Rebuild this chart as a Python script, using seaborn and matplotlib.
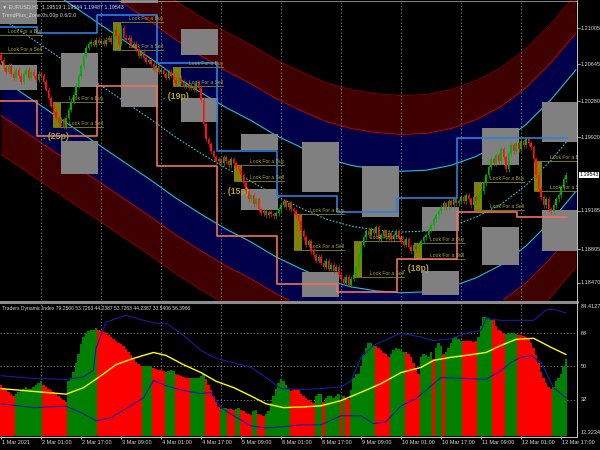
import numpy as np
import matplotlib
matplotlib.use("Agg")
import matplotlib.pyplot as plt
import matplotlib.transforms as mtransforms
from matplotlib.patches import Rectangle
import seaborn as sns

# ---------------- main chart data (EURUSD H1, bar 0 = 1 Mar 2021) ----------------
OPEN0 = 1.20740
CLOSE = [
    1.20691, 1.20611, 1.20572, 1.20631, 1.20552, 1.20512, 1.20592, 1.20532, 1.20473, 1.20552,
    1.20592, 1.20512, 1.20572, 1.20532, 1.20492, 1.20552,
    1.20532, 1.20473, 1.20393, 1.20314, 1.20234,
    1.20175, 1.20115, 1.20056, 1.20096, 1.20026, 1.20115,
    1.20195, 1.20274, 1.20344, 1.20433, 1.20532, 1.20631, 1.20730,
    1.20810, 1.20850, 1.20869, 1.20840,
    1.20889, 1.20859, 1.20879, 1.20850, 1.20889, 1.20909, 1.20869,
    1.20988, 1.20929, 1.20850, 1.21008, 1.20909,
    1.20889, 1.20909, 1.20830, 1.20850, 1.20790, 1.20730, 1.20770, 1.20711, 1.20671, 1.20691,
    1.20651, 1.20592, 1.20631, 1.20572,
    1.20592, 1.20552, 1.20512, 1.20572, 1.20532, 1.20492, 1.20453, 1.20512, 1.20473, 1.20433,
    1.20453, 1.20413, 1.20433, 1.20393, 1.20453, 1.20413,
    1.20294, 1.20046, 1.19897, 1.19848, 1.19778, 1.19719, 1.19679,
    1.19699, 1.19659, 1.19719, 1.19679, 1.19639, 1.19699, 1.19659, 1.19619, 1.19600,
    1.19540, 1.19461, 1.19381, 1.19302, 1.19342, 1.19252, 1.19302, 1.19203,
    1.19163, 1.19183, 1.19143, 1.19173, 1.19153, 1.19133, 1.19163, 1.19203,
    1.19242, 1.19282, 1.19223, 1.19262, 1.19203, 1.19183, 1.19143, 1.19084,
    1.18985, 1.18925, 1.18846, 1.18885, 1.18786, 1.18746, 1.18687, 1.18727,
    1.18667, 1.18627, 1.18687, 1.18608, 1.18647, 1.18588, 1.18627, 1.18548,
    1.18508, 1.18469, 1.18528, 1.18449, 1.18508, 1.18548, 1.18627,
    1.18746, 1.18846, 1.18925, 1.18985, 1.18945,
    1.19004, 1.18965, 1.19024, 1.18905, 1.18945, 1.18985, 1.18925, 1.18965, 1.18905, 1.18945,
    1.18985, 1.18925,
    1.18885, 1.18846, 1.18905, 1.18826, 1.18786, 1.18846, 1.18806,
    1.18846, 1.18885, 1.18925, 1.18945, 1.19004, 1.19044, 1.19104, 1.19143, 1.19183, 1.19223,
    1.19262, 1.19223, 1.19282, 1.19242, 1.19302, 1.19262, 1.19282,
    1.19322, 1.19282, 1.19342, 1.19302, 1.19242, 1.19322, 1.19282, 1.19342,
    1.19381, 1.19461, 1.19540, 1.19619, 1.19699,
    1.19659, 1.19738, 1.19679, 1.19798, 1.19719, 1.19600, 1.19758, 1.19838, 1.19778, 1.19858,
    1.19798,
    1.19877, 1.19838, 1.19897, 1.19858, 1.19818, 1.19699,
    1.19540, 1.19401, 1.19322, 1.19242, 1.19302, 1.19203,
    1.19183, 1.19242, 1.19302, 1.19342, 1.19421, 1.19500, 1.19543,
]
WICK = 0.00025

# regression channel: mid line read every 10 bars, band offsets
CHAN_X = list(range(0, 231, 10))
CHAN_MID = [1.21107, 1.20939, 1.20770, 1.20602, 1.20433, 1.20264, 1.20096, 1.19917,
            1.19758, 1.19610, 1.19481, 1.19332, 1.19213, 1.19104, 1.19034, 1.18994,
            1.18975, 1.18985, 1.19034, 1.19123, 1.19252, 1.19441, 1.19689, 1.19986]
CHAN_INNER = 0.00605
CHAN_RED = 0.00972
CHAN_OUTER = 0.01359

# daily resistance / support steps
RES_EDGES = [-0.4, 14.4, 38.4, 62.4, 86.4, 110.4, 134.4, 158.4, 182.4, 226.4]
RES_LEVELS = [1.21018, 1.20958, 1.21137, 1.20661, 1.19778, 1.19332, 1.19173, 1.19312, 1.19907]
SUP_EDGES = [-0.4, 14.4, 38.4, 62.4, 86.4, 110.4, 134.4, 158.4, 182.4, 206.4, 226.4]
SUP_LEVELS = [1.20284, 1.19927, 1.20433, 1.19629, 1.18935, 1.18459, 1.18380, 1.18707,
              1.19173, 1.19124]

# grey zone boxes, one pair per day
BOX_X = [-0.4, 24, 48, 72, 96, 120.4, 144.4, 168.4, 192.4, 216.4]
BOX_W = 14.8
UP_HI = [1.2135, 1.20760, 1.2135, 1.20998, 1.19947, 1.19867, 1.19629, 1.19223, 1.20016, 1.20274]
UP_LO = [1.21048, 1.20423, 1.21256, 1.20740, 1.19788, 1.19372, 1.19124, 1.18985, 1.19639, 1.19867]
DN_HI = [1.20641, 1.19877, 1.20611, 1.20314, 1.19401, 1.18578, None, 1.18588, 1.19024, 1.19193]
DN_LO = [1.20393, 1.19550, 1.20225, 1.20066, 1.19193, 1.18330, None, 1.18350, 1.18648, 1.18787]

# "Look For" signals
SIG_X0 = [-3.6, 20.8, 44.8, 68.8, 93.2, 117.2, 141.2, 165.2, 189.2, 213.2]
SIG_BUY = [1.20939, 1.20274, 1.21068, 1.20621, 1.19639, 1.19153, 1.18886, 1.18866, 1.19471, 1.19679]
SIG_SELL = [1.20760, 1.20026, 1.20790, 1.20433, 1.19481, 1.18796, 1.18529, 1.18707, 1.19193, 1.19382]

PIP_TXT = ['. (25p)', '. (19p)', '. (15p)', '. (18p)']
PIP_X = [16.8, 64.8, 88.8, 160.8]
PIP_Y = [1.19927, 1.20324, 1.19381, 1.18608]

PRICE_TICKS = ['1.21005', '1.20645', '1.20280', '1.19920', '1.19185', '1.18805', '1.18470']
LAST_PRICE = '1.19543'

TIME_TICKS = list(range(0, 225, 16))
TIME_LABELS = ['1 Mar 2021', '2 Mar 01:00', '2 Mar 17:00', '3 Mar 09:00', '4 Mar 01:00',
               '4 Mar 17:00', '5 Mar 09:00', '8 Mar 01:00', '8 Mar 17:00', '9 Mar 09:00',
               '10 Mar 01:00', '10 Mar 17:00', '11 Mar 09:00', '12 Mar 01:00', '12 Mar 17:00']
GRID_X = list(range(16, 231, 24))

# ---------------- Traders Dynamic Index ----------------
TDI = [40, 38, 37, 36, 35, 34,
       35, 36, 37, 38, 39, 38, 38, 39, 40, 41, 42,
       40, 39, 38, 37, 36, 35, 34, 33, 32, 31,
       42, 44, 47, 52, 57, 62, 66, 68, 69, 70, 70, 71,
       70, 69, 68.5, 68, 67, 66, 65, 64, 63, 62, 61, 59.5, 58, 56, 54, 52.5, 51.5, 50.5,
       50.5, 50.5, 50, 50.5,
       49, 48.5, 48, 48, 47.5,
       47, 47.5, 48, 47.5,
       46, 45.5, 45, 44.5, 44, 44,
       43.5, 44, 43.5, 44, 45, 46,
       43, 40, 37, 34, 31, 28,
       27, 27.5, 27.5,
       27, 27, 26.5,
       27, 27.5,
       26.5, 26, 25, 24, 23.5,
       26, 26.5,
       24, 23.5, 23,
       24, 26, 30, 34, 38, 41, 43, 42, 40, 38,
       36.5, 37, 37.5, 37, 35, 34, 33, 32, 31, 30,
       34, 35, 35,
       31,
       33, 34, 34, 33, 34, 35,
       32,
       34,
       33, 32.5,
       37, 44, 46, 46, 50, 56, 60, 63, 63, 61,
       61, 60, 59, 57.5, 56.5, 55,
       57, 59, 60, 59.5, 59, 58,
       58, 57, 55, 52, 49, 46,
       55, 57, 56, 55, 58,
       54,
       60, 62.5, 61,
       57,
       58, 60, 63, 65.5, 66, 65, 64,
       64, 64, 64, 64, 63.5, 64,
       66, 72, 77, 77, 76.5, 75,
       75, 72, 70, 69, 68,
       67.5, 68, 68, 68, 67.5,
       67, 67, 66.5, 66, 65.5, 63, 60, 56, 52, 47, 44, 41, 39, 38,
       39, 42, 44, 46, 50, 54]
TDI_RUNS = [(6, 'r'), (11, 'g'), (10, 'r'), (12, 'g'), (18, 'r'), (4, 'g'), (5, 'r'), (4, 'g'),
            (6, 'r'), (6, 'g'), (6, 'r'), (3, 'g'), (3, 'r'), (2, 'g'), (5, 'r'), (2, 'g'),
            (3, 'r'), (10, 'g'), (10, 'r'), (3, 'g'), (1, 'r'), (6, 'g'), (1, 'r'), (1, 'g'),
            (2, 'r'), (10, 'g'), (6, 'r'), (6, 'g'), (6, 'r'), (5, 'g'), (1, 'r'), (3, 'g'),
            (1, 'r'), (7, 'g'), (6, 'r'), (6, 'g'), (5, 'r'), (5, 'g'), (14, 'r'), (6, 'g')]

YEL_X = [0, 13, 26, 33, 40, 46, 53, 61, 66, 73, 80, 86, 93, 100, 106, 113, 120, 128, 136, 144,
         152, 160, 168, 173, 180, 186, 194, 200, 206, 213, 220, 226]
YEL_V = [38, 36.5, 35, 38.5, 45, 51, 54.4, 57.6, 56, 51, 46.7, 42, 38.6, 34, 29.8, 27.7, 28,
         28.7, 31.5, 36, 40.7, 46.7, 49.5, 53.3, 55, 56, 57.6, 61.4, 64.7, 65.3, 60.4, 56.5]
UPB_X = [0, 13, 26, 33, 37, 38, 40, 42, 50, 57, 62, 66, 72, 80, 86, 93, 100, 106, 112, 120,
         128, 136, 140, 144, 149, 156, 160, 168, 173, 180, 186, 192, 194, 200, 208, 213, 218,
         221, 226]
UPB_V = [45, 43.5, 43, 44.4, 48, 60, 67, 74, 77.8, 75, 73.4, 73.4, 68, 58.7, 54.4, 52, 49.5,
         44, 38, 37.5, 38, 39, 42, 55, 61.4, 65.8, 68, 66, 64, 65, 68, 69.6, 76, 75, 75, 75,
         80.6, 81, 79]
LOB_X = [0, 13, 26, 33, 38, 44, 50, 57, 61, 66, 73, 80, 84, 88, 93, 100, 106, 114, 120, 128,
         136, 144, 149, 154, 160, 166, 176, 186, 194, 200, 204, 208, 212, 216, 221, 226]
LOB_V = [29.8, 27.7, 28.5, 24.4, 20.6, 22.2, 27.1, 33, 42.4, 39.6, 37, 35.3, 36, 27.7, 23.3,
         17.8, 16.7, 17.5, 18.4, 18.4, 23.3, 23.3, 19, 20, 28.7, 32.5, 44, 43.5, 43, 47.8,
         52.2, 55, 56, 52.2, 38.6, 33]
TDI_LEVELS = [68, 50, 32]
TDI_TICKS = ['84.4127', '68', '50', '32', '12.3234']
TDI_TICK_V = [82.6, 68, 50, 32, 14.3]
TDI_MIN, TDI_MAX = 12.3234, 84.4127

# ---------------- style ----------------
sns.set_theme(style="dark", rc={"axes.facecolor": "black", "figure.facecolor": "black"})
plt.rcParams['font.family'] = ['Liberation Sans', 'DejaVu Sans']
TXT = '#d8d8d8'
GRIDC = '#8a8a8a'
OLIVE_T = '#a8a236'
OLIVE_L = '#77770e'
FS = 4.0

fig = plt.figure(figsize=(6, 4.5), dpi=100)
ax = fig.add_axes([0, 1 - 300 / 450, 577 / 600, 300 / 450])
ax2 = fig.add_axes([0, 1 - 436 / 450, 577 / 600, 133 / 450])
for a in (ax, ax2):
    a.set_facecolor('black')
    a.set_xlim(-0.4, 230.4)
    a.set_xticks([])
    a.set_yticks([])
    for s in a.spines.values():
        s.set_visible(False)
ax.set_ylim(1.18298, 1.21286)
ax2.set_ylim(TDI_MIN, TDI_MAX)

# channel
cx = np.array(CHAN_X, dtype=float)
cm = np.array(CHAN_MID)
ax.fill_between(cx, cm + CHAN_RED, cm + CHAN_OUTER, color='#3e0000', lw=0, zorder=1)
ax.fill_between(cx, cm + CHAN_INNER, cm + CHAN_RED, color='#00004a', lw=0, zorder=1)
ax.fill_between(cx, cm - CHAN_RED, cm - CHAN_INNER, color='#00004a', lw=0, zorder=1)
ax.fill_between(cx, cm - CHAN_OUTER, cm - CHAN_RED, color='#3e0000', lw=0, zorder=1)
for sign in (1, -1):
    ax.plot(cx, cm + sign * CHAN_OUTER, color='#7a0000', lw=0.7, zorder=2)
    ax.plot(cx, cm + sign * CHAN_RED, color='#c00000', lw=0.7, zorder=2)
    ax.plot(cx, cm + sign * CHAN_INNER, color='#1ec0cc', lw=0.8, zorder=2)
sns.lineplot(x=cx, y=cm, ax=ax, color='#30c8d8', lw=0.8, linestyle=(0, (1.5, 1.5)), zorder=2)

# grid
for gx in GRID_X:
    ax.axvline(gx, color=GRIDC, lw=0.6, ls=(0, (1.5, 2.5)), zorder=3)
    ax2.axvline(gx, color=GRIDC, lw=0.6, ls=(0, (1.5, 2.5)), zorder=0.5)

# grey zones
for i, x0 in enumerate(BOX_X):
    ax.add_patch(Rectangle((x0, UP_LO[i]), BOX_W, UP_HI[i] - UP_LO[i],
                           color='#808080', lw=0, zorder=3.5))
    if DN_HI[i] is not None:
        ax.add_patch(Rectangle((x0, DN_LO[i]), BOX_W, DN_HI[i] - DN_LO[i],
                               color='#808080', lw=0, zorder=3.5))

# signals
for x0, b, s in zip(SIG_X0, SIG_BUY, SIG_SELL):
    ax.add_patch(Rectangle((x0, s), 3.3, b - s, color='#80800a', lw=0, zorder=3.6))
    ax.plot([x0, x0 + 20], [b, b], color=OLIVE_L, lw=0.7, zorder=4)
    ax.plot([x0, x0 + 20], [s, s], color=OLIVE_L, lw=0.7, zorder=4)
    ax.text(x0 + 20, b + 0.0001, 'Look For a Buy', color=OLIVE_T, fontsize=3.6,
            ha='right', va='bottom', zorder=6, clip_on=True)
    ax.text(x0 + 20, s + 0.0001, 'Look For a Sell', color=OLIVE_T, fontsize=3.6,
            ha='right', va='bottom', zorder=6, clip_on=True)
for t, x, y in zip(PIP_TXT, PIP_X, PIP_Y):
    ax.text(x, y, t, color=OLIVE_T, fontsize=6.3, fontweight='bold', ha='left',
            va='center', zorder=6)
ax.text(1.6, 1.20631, '(20p)', color=OLIVE_T, fontsize=6.3, fontweight='bold',
        ha='right', va='center', zorder=6, clip_on=True)

# candles
close = np.array(CLOSE)
opn = np.concatenate([[OPEN0], close[:-1]])
bx = np.arange(len(close))
lo = np.minimum(opn, close)
hi = np.maximum(opn, close)
ccol = np.where(close >= opn, '#00b000', '#ff1010')
ax.vlines(bx, lo - WICK, hi + WICK, colors=ccol, lw=0.5, zorder=5)
ax.bar(bx, np.maximum(hi - lo, 0.00004), bottom=lo, width=0.6, color=ccol, lw=0, zorder=5)

# support / resistance steps
ax.plot(RES_EDGES, RES_LEVELS + RES_LEVELS[-1:], drawstyle='steps-post',
        color='#2a80dc', lw=1.2, zorder=5.5)
ax.plot(SUP_EDGES, SUP_LEVELS + SUP_LEVELS[-1:], drawstyle='steps-post',
        color='#f0705c', lw=1.2, zorder=5.5)

# header
ax.text(0.004, 0.977, '\u25bc EURUSD,H1  1.19519 1.19564 1.19487 1.19543', color=TXT,
        fontsize=3.8, transform=ax.transAxes, va='center', ha='left', zorder=7)
ax.text(0.004, 0.95, 'TrendPlus_Zone 0s.00p 0.6/2.0', color=TXT,
        fontsize=3.8, transform=ax.transAxes, va='center', ha='left', zorder=7)

# right price scale
trp = mtransforms.blended_transform_factory(ax.transAxes, ax.transData)
for lab in PRICE_TICKS:
    v = float(lab)
    ax.text(1.006, v, lab, color=TXT, fontsize=FS, transform=trp, va='center',
            ha='left', clip_on=False)
    ax.plot([1.0, 1.005], [v, v], color=TXT, lw=0.5, transform=trp, clip_on=False)
ax.text(1.004, float(LAST_PRICE), LAST_PRICE, color='black', fontsize=3.8, transform=trp,
        va='center', ha='left', clip_on=False,
        bbox=dict(boxstyle='square,pad=0.12', fc='white', ec='white', lw=0))

# ---------------- TDI panel ----------------
tcols = []
for n, c in TDI_RUNS:
    tcols += [('#008000' if c == 'g' else '#ff0000')] * n
tv = np.array(TDI)
ax2.bar(np.arange(len(tv)), tv - TDI_MIN, bottom=TDI_MIN, width=1.0, color=tcols,
        lw=0, zorder=1)
for lv in TDI_LEVELS:
    ax2.axhline(lv, color=GRIDC, lw=0.6, ls=(0, (1.5, 2.5)), zorder=0.6)
sns.lineplot(x=UPB_X, y=UPB_V, ax=ax2, color='#1a1aa8', lw=0.8, zorder=2)
sns.lineplot(x=LOB_X, y=LOB_V, ax=ax2, color='#1a1aa8', lw=0.8, zorder=2)
sns.lineplot(x=YEL_X, y=YEL_V, ax=ax2, color='#ffff00', lw=1.0, zorder=3)
ax2.set_xlim(-0.4, 230.4)
ax2.set_ylim(TDI_MIN, TDI_MAX)
ax2.set_xlabel('')
ax2.set_ylabel('')
ax.set_xlabel('')
ax.set_ylabel('')

ax2.text(0.004, 0.955, 'Traders Dynamic Index 79.2506 53.7263 44.2387 53.7263 44.2387 '
         '33.5406 56.3966', color=TXT, fontsize=3.6, transform=ax2.transAxes,
         va='center', ha='left', zorder=7)
trp2 = mtransforms.blended_transform_factory(ax2.transAxes, ax2.transData)
for lab, v in zip(TDI_TICKS, TDI_TICK_V):
    ax2.text(1.006, v, lab, color=TXT, fontsize=FS, transform=trp2, va='center',
             ha='left', clip_on=False)

# time axis
trx = mtransforms.blended_transform_factory(ax2.transData, ax2.transAxes)
for t, lab in zip(TIME_TICKS, TIME_LABELS):
    ax2.text(t + 0.3, -0.03, lab, color=TXT, fontsize=FS, transform=trx, va='top',
             ha='left', clip_on=False)
    ax2.plot([t, t], [0, -0.025], color=TXT, lw=0.5, transform=trx, clip_on=False)

# frames
ln = dict(transform=fig.transFigure, clip_on=False)
fig.add_artist(plt.Line2D([0, 577 / 600], [1 - 301.5 / 450] * 2, color='#8c8c8c', lw=2.2, **ln))
fig.add_artist(plt.Line2D([0, 577 / 600], [1 - 0.5 / 450] * 2, color='#9a9a9a', lw=0.6, **ln))
fig.add_artist(plt.Line2D([577 / 600] * 2, [1 - 436.5 / 450, 1], color='#c8c8c8', lw=0.7, **ln))
fig.add_artist(plt.Line2D([0, 577 / 600], [1 - 436.5 / 450] * 2, color='#c8c8c8', lw=0.7, **ln))

fig.savefig('out.png', dpi=100, facecolor='black')
